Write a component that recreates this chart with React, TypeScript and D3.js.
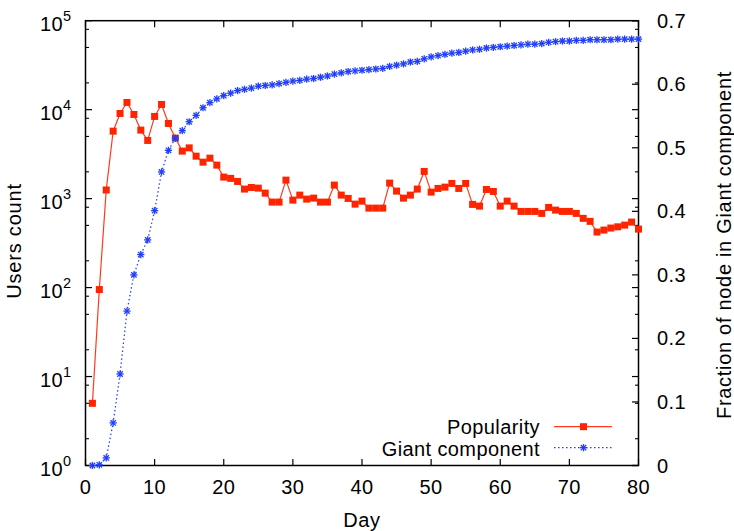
import React from "react";
import * as d3 from "d3";

const days = [
  1, 2, 3, 4, 5, 6, 7, 8, 9, 10, 11, 12, 13, 14, 15, 16, 17, 18, 19, 20,
  21, 22, 23, 24, 25, 26, 27, 28, 29, 30, 31, 32, 33, 34, 35, 36, 37, 38, 39, 40,
  41, 42, 43, 44, 45, 46, 47, 48, 49, 50, 51, 52, 53, 54, 55, 56, 57, 58, 59, 60,
  61, 62, 63, 64, 65, 66, 67, 68, 69, 70, 71, 72, 73, 74, 75, 76, 77, 78, 79, 80,
];

const popularity = [
  5, 95, 1250, 5730, 9060, 12050, 8830, 5890, 4510, 8390,
  11440, 7000, 4790, 3420, 3720, 3000, 2570, 2850, 2380, 1745,
  1690, 1560, 1280, 1335, 1312, 1153, 914, 914, 1614, 962,
  1095, 987, 1013, 914, 914, 1419, 1095, 1005, 867, 937,
  782, 782, 782, 1494, 1215, 1013, 1095, 1280, 2022, 1183,
  1302, 1346, 1482, 1302, 1482, 861, 824, 1268, 1204, 824,
  937, 824, 718, 718, 718, 682, 796, 743, 718, 718,
  682, 600, 555, 421, 443, 467, 482, 504, 545, 454,
];

const giantFraction = [
  0.0, 0.001, 0.012, 0.067, 0.144, 0.243, 0.3, 0.332, 0.355, 0.401,
  0.462, 0.496, 0.515, 0.527, 0.541, 0.551, 0.563, 0.571, 0.577, 0.582,
  0.586, 0.59, 0.592, 0.594, 0.597, 0.598, 0.599, 0.601, 0.603, 0.605,
  0.606, 0.608, 0.609, 0.611, 0.613, 0.616, 0.618, 0.62, 0.621, 0.622,
  0.623, 0.624, 0.625, 0.628, 0.63, 0.632, 0.635, 0.636, 0.64, 0.643,
  0.645, 0.647, 0.649, 0.65, 0.652, 0.654, 0.655, 0.657, 0.658, 0.659,
  0.66, 0.661, 0.662, 0.663, 0.663, 0.664, 0.666, 0.667, 0.668, 0.668,
  0.669, 0.669, 0.67, 0.67, 0.67, 0.67, 0.671, 0.671, 0.671, 0.671,
];

const xTicks = [0, 10, 20, 30, 40, 50, 60, 70, 80];
const yExponents = [0, 1, 2, 3, 4, 5];
const yMinorMultipliers = [2, 5, 8];
const y2Ticks = [0, 0.1, 0.2, 0.3, 0.4, 0.5, 0.6, 0.7];
const y2TickLabels = ["0", "0.1", "0.2", "0.3", "0.4", "0.5", "0.6", "0.7"];
const seriesNames = ["Popularity", "Giant component"];

const W = 734;
const H = 531;
const L = 85.5;
const R = 638.5;
const T = 20.7;
const B = 465.5;
const FONT = "'Liberation Sans', Arial, Helvetica, sans-serif";
const RED = "#ff2400";
const RED_LINE = "#ff3a1a";
const BLUE = "#1f3dff";
const MAJ = 6.5;
const MIN = 3.5;

export default function App() {
  const x = d3.scaleLinear().domain([0, 80]).range([L, R]);
  const y = d3.scaleLog().domain([1, 1e5]).range([B, T]);
  const y2 = d3.scaleLinear().domain([0, 0.7]).range([B, T]);

  const redData = days.map((d, i) => [d, popularity[i]] as [number, number]);
  const blueData = days.map((d, i) => [d, giantFraction[i]] as [number, number]);

  const redLine = d3
    .line<[number, number]>()
    .x((d) => x(d[0]))
    .y((d) => y(d[1]))(redData) as string;
  const blueLine = d3
    .line<[number, number]>()
    .x((d) => x(d[0]))
    .y((d) => y2(d[1]))(blueData) as string;

  const minorVals: number[] = [];
  yExponents.slice(0, -1).forEach((e) =>
    yMinorMultipliers.forEach((m) => minorVals.push(m * Math.pow(10, e)))
  );

  const sq = 7;
  const st = 3.6;
  const star = (cx: number, cy: number, key: any) => (
    <g key={key} stroke={BLUE} strokeWidth={1.3}>
      <line x1={cx - st} y1={cy} x2={cx + st} y2={cy} />
      <line x1={cx} y1={cy - st} x2={cx} y2={cy + st} />
      <line x1={cx - st * 0.75} y1={cy - st * 0.75} x2={cx + st * 0.75} y2={cy + st * 0.75} />
      <line x1={cx - st * 0.75} y1={cy + st * 0.75} x2={cx + st * 0.75} y2={cy - st * 0.75} />
    </g>
  );

  const legY1 = 426.7;
  const legY2 = 447.7;
  const legX1 = 554;
  const legX2 = 612;
  const legXm = 583.5;

  return (
    <svg
      width={W}
      height={H}
      style={{ position: "absolute", left: 0, top: 0, background: "#fff" }}
      fontFamily={FONT}
    >
      <rect x={0} y={0} width={W} height={H} fill="#fff" />

      {/* x ticks bottom and top */}
      {xTicks.map((t) => (
        <g key={"xt" + t} stroke="#000" strokeWidth={1.2}>
          <line x1={x(t)} y1={B} x2={x(t)} y2={B - MAJ} />
          <line x1={x(t)} y1={T} x2={x(t)} y2={T + MAJ} />
        </g>
      ))}
      {xTicks.map((t) => (
        <text key={"xl" + t} x={x(t)} y={493.5} textAnchor="middle" fontSize={20} letterSpacing={0.4}>
          {t}
        </text>
      ))}

      {/* y log ticks, left and mirrored right */}
      {yExponents.map((e) => {
        const v = Math.pow(10, e);
        return (
          <g key={"ym" + e} stroke="#000" strokeWidth={1.2}>
            <line x1={L} y1={y(v)} x2={L + MAJ} y2={y(v)} />
            <line x1={R} y1={y(v)} x2={R - MAJ} y2={y(v)} />
          </g>
        );
      })}
      {minorVals.map((v) => (
        <g key={"yn" + v} stroke="#000" strokeWidth={1.1}>
          <line x1={L} y1={y(v)} x2={L + MIN} y2={y(v)} />
          <line x1={R} y1={y(v)} x2={R - MIN} y2={y(v)} />
        </g>
      ))}
      {yExponents.map((e) => (
        <text key={"yl" + e} x={71.5} y={y(Math.pow(10, e)) + 10} textAnchor="end" fontSize={20} letterSpacing={0.4}>
          10
          <tspan dy={-9.5} fontSize={14.5}>
            {e}
          </tspan>
        </text>
      ))}

      {/* y2 ticks */}
      {y2Ticks.map((t, i) => (
        <line key={"y2t" + i} x1={R} y1={y2(t)} x2={R - MAJ} y2={y2(t)} stroke="#000" strokeWidth={1.2} />
      ))}
      {y2Ticks.map((t, i) => (
        <text key={"y2l" + i} x={657} y={y2(t) + 7} textAnchor="start" fontSize={20} letterSpacing={0.4}>
          {y2TickLabels[i]}
        </text>
      ))}

      {/* frame */}
      <rect x={L} y={T} width={R - L} height={B - T} fill="none" stroke="#000" strokeWidth={1.5} />

      {/* axis titles */}
      <text x={362} y={526.5} textAnchor="middle" fontSize={20} letterSpacing={0.6}>
        Day
      </text>
      <text
        transform={`translate(20.7,241) rotate(-90)`}
        textAnchor="middle"
        fontSize={20}
        letterSpacing={0.8}
      >
        Users count
      </text>
      <text
        transform={`translate(731,245) rotate(-90)`}
        textAnchor="middle"
        fontSize={20}
        letterSpacing={0.7}
      >
        Fraction of node in Giant component
      </text>

      {/* popularity series */}
      <path d={redLine} fill="none" stroke={RED_LINE} strokeWidth={1.2} />
      {redData.map((d, i) => (
        <rect key={"r" + i} x={x(d[0]) - sq / 2} y={y(d[1]) - sq / 2} width={sq} height={sq} fill={RED} />
      ))}

      {/* giant component series */}
      <path d={blueLine} fill="none" stroke={BLUE} strokeWidth={1.2} strokeDasharray="1.5,2.5" />
      {blueData.map((d, i) => star(x(d[0]), y2(d[1]), "b" + i))}

      {/* legend */}
      <text x={540} y={434.3} textAnchor="end" fontSize={20} letterSpacing={0.4}>
        {seriesNames[0]}
      </text>
      <line x1={legX1} y1={legY1} x2={legX2} y2={legY1} stroke={RED_LINE} strokeWidth={1.2} />
      <rect x={legXm - sq / 2} y={legY1 - sq / 2} width={sq} height={sq} fill={RED} />
      <text x={540} y={455.5} textAnchor="end" fontSize={20} letterSpacing={0.4}>
        {seriesNames[1]}
      </text>
      <line x1={legX1} y1={legY2} x2={legX2} y2={legY2} stroke={BLUE} strokeWidth={1.2} strokeDasharray="1.5,2.5" />
      {star(legXm, legY2, "legstar")}
    </svg>
  );
}
